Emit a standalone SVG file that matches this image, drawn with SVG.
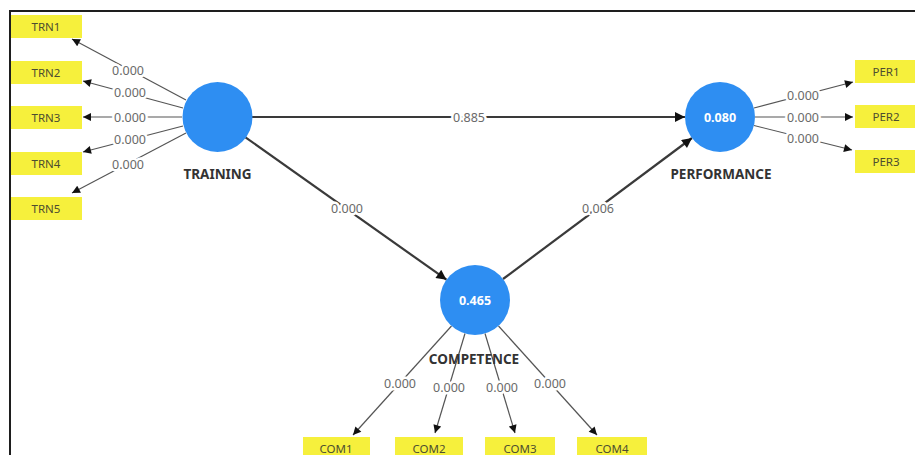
<svg xmlns="http://www.w3.org/2000/svg" width="915" height="455" viewBox="0 0 915 455">
  <style>
    .frame { fill: #ffffff; stroke: #1e1e1e; stroke-width: 2; }
    .path { stroke: #3a3a3a; stroke-width: 2.2; fill: none; }
    .load { stroke: #555555; stroke-width: 1.2; fill: none; }
    .lv { fill: #2e8ef2; }
    .lvval { font-family: "Noto Sans", "Open Sans", sans-serif; font-size: 12.5px; font-weight: bold; fill: #ffffff; text-anchor: middle; }
    .lvname { font-family: "Noto Sans", "Open Sans", sans-serif; font-size: 13.5px; font-weight: bold; fill: #333333; text-anchor: middle; }
    .ind { fill: #f6f03c; }
    .indtxt { font-family: "Noto Sans", "Open Sans", sans-serif; font-size: 11.5px; fill: #4d4d30; text-anchor: middle; }
    .lbl { font-family: "Noto Sans", "Open Sans", sans-serif; font-size: 12.5px; fill: #6a6a6a; text-anchor: middle; stroke: #ffffff; stroke-width: 5; paint-order: stroke; stroke-linejoin: round; }
  </style>
  <defs>
    <marker id="ah" viewBox="0 0 10 10" refX="10" refY="5" markerWidth="9" markerHeight="8" markerUnits="userSpaceOnUse" orient="auto">
      <path d="M0,0 L10,5 L0,10 z" fill="#111111"/>
    </marker>
    <marker id="ahb" viewBox="0 0 10 10" refX="10" refY="5" markerWidth="11" markerHeight="10" markerUnits="userSpaceOnUse" orient="auto">
      <path d="M0,0 L10,5 L0,10 z" fill="#111111"/>
    </marker>
  </defs>

  <rect width="915" height="455" fill="#ffffff"/>
  <rect class="frame" x="10" y="11" width="930" height="470"/>

  <!-- connectors -->
  <g id="connectors">
    <!-- structural paths -->
    <line class="path" x1="252" y1="117" x2="685" y2="117" marker-end="url(#ahb)"/>
    <line class="path" x1="245.5" y1="137.3" x2="446.5" y2="279.7" marker-end="url(#ahb)"/>
    <line class="path" x1="503" y1="279" x2="692" y2="138" marker-end="url(#ahb)"/>
    <!-- TRAINING loadings -->
    <line class="load" x1="186" y1="100" x2="72" y2="39" marker-end="url(#ah)"/>
    <line class="load" x1="183" y1="108" x2="83" y2="81" marker-end="url(#ah)"/>
    <line class="load" x1="182" y1="117" x2="83" y2="117" marker-end="url(#ah)"/>
    <line class="load" x1="183" y1="126" x2="83" y2="152" marker-end="url(#ah)"/>
    <line class="load" x1="186" y1="133" x2="72" y2="193" marker-end="url(#ah)"/>
    <!-- PERFORMANCE loadings -->
    <line class="load" x1="754" y1="108" x2="853" y2="82" marker-end="url(#ah)"/>
    <line class="load" x1="755" y1="117" x2="853" y2="117" marker-end="url(#ah)"/>
    <line class="load" x1="754" y1="125.5" x2="852" y2="150" marker-end="url(#ah)"/>
    <!-- COMPETENCE loadings -->
    <line class="load" x1="451.5" y1="326" x2="353" y2="435" marker-end="url(#ah)"/>
    <line class="load" x1="465" y1="333.5" x2="435" y2="433" marker-end="url(#ah)"/>
    <line class="load" x1="485" y1="333.5" x2="515" y2="433" marker-end="url(#ah)"/>
    <line class="load" x1="498.5" y1="326" x2="597" y2="435" marker-end="url(#ah)"/>

    <!-- coefficient labels -->
    <text class="lbl" x="469" y="121.5">0.885</text>
    <text class="lbl" x="347" y="213">0.000</text>
    <text class="lbl" x="598" y="213">0.006</text>

    <text class="lbl" x="128" y="75">0.000</text>
    <text class="lbl" x="130" y="97">0.000</text>
    <text class="lbl" x="130" y="121.5">0.000</text>
    <text class="lbl" x="130" y="144">0.000</text>
    <text class="lbl" x="128" y="169">0.000</text>

    <text class="lbl" x="803" y="100">0.000</text>
    <text class="lbl" x="803" y="121.5">0.000</text>
    <text class="lbl" x="803" y="143">0.000</text>

    <text class="lbl" x="400" y="388">0.000</text>
    <text class="lbl" x="449" y="392">0.000</text>
    <text class="lbl" x="502" y="392">0.000</text>
    <text class="lbl" x="550" y="388">0.000</text>
  </g>

  <!-- latent variables -->
  <g id="training">
    <circle class="lv" cx="217.5" cy="117" r="35"/>
    <text class="lvname" x="217.5" y="179">TRAINING</text>
  </g>
  <g id="performance">
    <circle class="lv" cx="720" cy="117" r="35"/>
    <text class="lvval" x="720" y="121.5">0.080</text>
    <text class="lvname" x="721" y="179">PERFORMANCE</text>
  </g>
  <g id="competence">
    <circle class="lv" cx="475" cy="300" r="35"/>
    <text class="lvval" x="475" y="304.5">0.465</text>
    <text class="lvname" x="474" y="364">COMPETENCE</text>
  </g>

  <!-- indicators -->
  <g id="trn1"><rect class="ind" x="11" y="15" width="71" height="23"/><text class="indtxt" x="46" y="30.5">TRN1</text></g>
  <g id="trn2"><rect class="ind" x="11" y="61" width="71" height="23"/><text class="indtxt" x="46" y="76.5">TRN2</text></g>
  <g id="trn3"><rect class="ind" x="11" y="106" width="71" height="23"/><text class="indtxt" x="46" y="121.5">TRN3</text></g>
  <g id="trn4"><rect class="ind" x="11" y="152" width="71" height="23"/><text class="indtxt" x="46" y="167.5">TRN4</text></g>
  <g id="trn5"><rect class="ind" x="11" y="197" width="71" height="23"/><text class="indtxt" x="46" y="212.5">TRN5</text></g>

  <g id="per1"><rect class="ind" x="855" y="60" width="70" height="23"/><text class="indtxt" x="886" y="75.5">PER1</text></g>
  <g id="per2"><rect class="ind" x="855" y="105" width="70" height="23"/><text class="indtxt" x="886" y="120.5">PER2</text></g>
  <g id="per3"><rect class="ind" x="855" y="150" width="70" height="23"/><text class="indtxt" x="886" y="165.5">PER3</text></g>

  <g id="com1"><rect class="ind" x="303" y="437" width="67" height="23"/><text class="indtxt" x="336" y="452.5">COM1</text></g>
  <g id="com2"><rect class="ind" x="395" y="437" width="68" height="23"/><text class="indtxt" x="429" y="452.5">COM2</text></g>
  <g id="com3"><rect class="ind" x="485" y="437" width="70" height="23"/><text class="indtxt" x="520" y="452.5">COM3</text></g>
  <g id="com4"><rect class="ind" x="577" y="437" width="70" height="23"/><text class="indtxt" x="612" y="452.5">COM4</text></g>
</svg>
